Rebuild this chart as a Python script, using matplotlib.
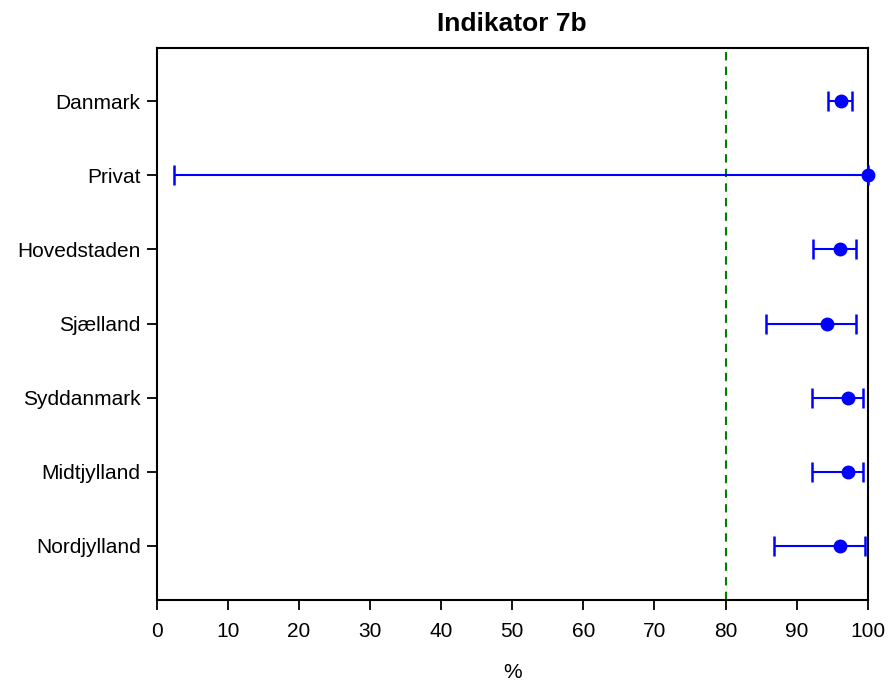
import matplotlib.pyplot as plt

regions = ['Danmark', 'Privat', 'Hovedstaden', 'Sjælland', 'Syddanmark', 'Midtjylland', 'Nordjylland']
estimate = [96.3, 100.0, 96.1, 94.2, 97.2, 97.2, 96.1]
lower = [94.4, 2.5, 92.3, 85.7, 92.1, 92.1, 86.8]
upper = [97.8, 100.0, 98.4, 98.4, 99.4, 99.4, 99.6]
target = 80

plt.rcParams['font.family'] = ['Liberation Sans', 'DejaVu Sans']

fig = plt.figure(figsize=(8.9, 6.83), dpi=100)
ax = fig.add_axes([0.176, 0.1215, 0.799, 0.8085])

ypos = list(range(len(regions)))
xerr = [[e - l for e, l in zip(estimate, lower)], [u - e for e, u in zip(estimate, upper)]]
ax.errorbar(estimate, ypos, xerr=xerr, fmt='o', color='blue', ecolor='blue',
            markersize=9, elinewidth=1.5, capsize=7, capthick=1.8, clip_on=False, zorder=3)
ax.axvline(target, color='green', linestyle=(0, (4, 3)), linewidth=1.5)

ax.set_xlim(0, 100)
ax.set_ylim(len(regions) - 1 + 0.73, -0.72)
ax.set_yticks(ypos)
ax.set_yticklabels(regions)
ax.set_xticks(range(0, 101, 10))
ax.tick_params(axis='both', labelsize=15, length=7.5, width=1.3, direction='out')
ax.tick_params(axis='x', pad=8)
ax.tick_params(axis='y', pad=4)
for s in ax.spines.values():
    s.set_linewidth(1.5)

ax.set_title('Indikator 7b', fontsize=19, fontweight='bold', pad=12)
ax.set_xlabel('%', fontsize=15, labelpad=16)

fig.savefig('out.png', dpi=100)
